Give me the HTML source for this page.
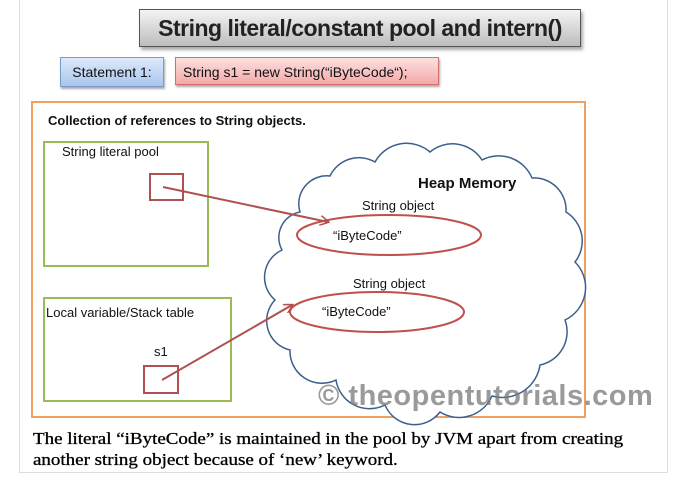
<!DOCTYPE html>
<html><head><meta charset="utf-8"><style>
body{margin:0;width:678px;height:481px;background:#fff;position:relative;overflow:hidden;font-family:"Liberation Sans",sans-serif}
.a{position:absolute}
</style></head><body>
<div class="a" style="left:19px;top:-2px;width:647px;height:474px;border:1px solid #ddd;border-top:none"></div>
<div class="a" style="left:139px;top:9px;width:440px;height:36px;border:1px solid #555;background:linear-gradient(#f4f4f4,#bdbdbd);box-shadow:2px 3px 3px #aaa;font-size:23px;font-weight:bold;color:#222;text-align:center;line-height:36px;letter-spacing:-0.5px">String literal/constant pool and intern()</div>
<div class="a" style="left:60px;top:57px;width:102px;height:28px;border:1px solid #7a9cc8;background:linear-gradient(#dde9fb,#a9c6ee);box-shadow:1px 2px 2px #aaa;font-size:14px;line-height:28px;text-align:center;color:#111">Statement 1:</div>
<div class="a" style="left:175px;top:57px;width:264px;height:28px;border:1px solid #d07070;background:linear-gradient(#fde0e0,#f3a9a9);box-shadow:1px 2px 2px #aaa;font-size:14px;line-height:28px;padding-left:7px;box-sizing:border-box;color:#111">String s1 = new String(“iByteCode“);</div>
<div class="a" style="left:31px;top:101px;width:551px;height:313px;border:2px solid #f0a060"></div>
<div class="a" style="left:48px;top:113px;font-size:13px;font-weight:bold;color:#111">Collection of references to String objects.</div>
<div class="a" style="left:43px;top:141px;width:162px;height:122px;border:2px solid #9bbb59"></div>
<div class="a" style="left:62px;top:144px;font-size:13px;color:#111">String literal pool</div>
<div class="a" style="left:43px;top:297px;width:185px;height:101px;border:2px solid #9bbb59"></div>
<div class="a" style="left:46px;top:305px;font-size:13px;color:#111">Local variable/Stack table</div>
<div class="a" style="left:154px;top:344px;font-size:13px;color:#111">s1</div>
<svg class="a" style="left:0;top:0" width="678" height="481">
<defs><marker id="m" markerWidth="10" markerHeight="10" refX="8" refY="5" orient="auto" markerUnits="userSpaceOnUse"><path d="M0,0 L9,5 L0,10" fill="none" stroke="#b05050" stroke-width="1.5"/></marker></defs>
<path d="M300,212 A28,28 0 0 1 330,176 A32,32 0 0 1 375,162 A36,36 0 0 1 430,152 A35,35 0 0 1 482,160 A36,36 0 0 1 532,178 A32,32 0 0 1 566,212 A34,34 0 0 1 575,262 A36,36 0 0 1 565,320 A34,34 0 0 1 540,365 A38,38 0 0 1 492,396 A36,36 0 0 1 440,412 A32,32 0 0 1 385,405 A34,34 0 0 1 336,380 A32,32 0 0 1 290,350 A30,30 0 0 1 275,300 A30,30 0 0 1 282,250 A26,26 0 0 1 300,212 Z" fill="#fff" stroke="#3d5f8c" stroke-width="1.5"/>
<rect x="150" y="174" width="33" height="26" fill="none" stroke="#b05050" stroke-width="2"/>
<rect x="144" y="366" width="34" height="27" fill="none" stroke="#b05050" stroke-width="2"/>
<ellipse cx="389" cy="235" rx="92" ry="20" fill="#fff" stroke="#c05050" stroke-width="2"/>
<ellipse cx="377" cy="312" rx="87" ry="20" fill="#fff" stroke="#c05050" stroke-width="2"/>
<line x1="163" y1="187" x2="328" y2="222" stroke="#b05050" stroke-width="2" marker-end="url(#m)"/>
<line x1="162" y1="380" x2="292" y2="305" stroke="#b05050" stroke-width="2" marker-end="url(#m)"/>
</svg>
<div class="a" style="left:418px;top:175px;font-size:15px;font-weight:bold;color:#111">Heap Memory</div>
<div class="a" style="left:362px;top:198px;font-size:13px;color:#111">String object</div>
<div class="a" style="left:333px;top:228px;font-size:13px;color:#111">“iByteCode”</div>
<div class="a" style="left:353px;top:276px;font-size:13px;color:#111">String object</div>
<div class="a" style="left:322px;top:304px;font-size:13px;color:#111">“iByteCode”</div>
<div class="a" style="left:318px;top:380px;font-size:29px;font-weight:bold;color:rgba(120,120,120,0.75);letter-spacing:0.5px">© theopentutorials.com</div>
<div class="a" style="left:33px;top:428px;font-family:'Liberation Serif',serif;font-size:16.5px;color:#000;line-height:21px;transform:scaleX(1.15);transform-origin:0 0;white-space:nowrap;-webkit-text-stroke:0.3px #000">The literal “iByteCode” is maintained in the pool by JVM apart from creating<br>another string object because of ‘new’ keyword.</div>
</body></html>
